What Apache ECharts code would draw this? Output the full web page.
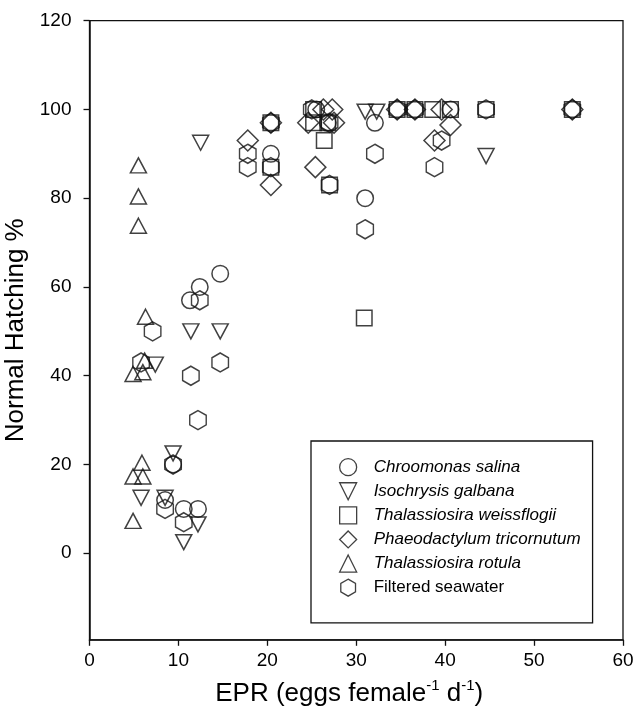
<!DOCTYPE html>
<html>
<head>
<meta charset="utf-8">
<script src="https://cdn.jsdelivr.net/npm/echarts@6/dist/echarts.min.js"></script>
<style>
html,body{margin:0;padding:0;background:#fff;}
#chart{width:636px;height:708px;}
</style>
</head>
<body>
<div id="chart"></div>
<script>
// ---- data (EPR, Normal Hatching %) ----
const seriesNames = ['Chroomonas salina','Isochrysis galbana','Thalassiosira weissflogii','Phaeodactylum tricornutum','Thalassiosira rotula','Filtered seawater'];
const chroomonas = [[14.7,63],[12.4,60],[11.3,57],[9.4,20],[8.5,12],[10.6,10],[12.2,10],[20.4,90],[32.1,97],[31,80],[26.8,97],[25.5,100],[40.6,100]];
const isochrysis = [[12.5,92.5],[31,99.5],[32.3,99.5],[44.6,89.5],[11.4,50],[14.7,50],[7.4,42.5],[9.4,22.5],[5.8,12.5],[8.5,12.5],[12.2,6.5],[10.6,2.5]];
const weissflogii = [[20.4,97],[20.4,87],[25.2,97],[26.8,97],[26.4,93],[27,83],[25.2,100],[34.6,100],[36.6,100],[38.6,100],[40.6,100],[44.6,100],[54.3,100],[30.9,53]];
const phaeodactylum = [[17.8,93],[20.4,97],[20.4,83],[25.4,87],[24.6,97],[26.3,100],[27.3,100],[27.5,97],[34.6,100],[36.6,100],[39.6,100],[40.6,96.5],[38.8,93],[54.3,100]];
const rotula = [[5.5,87.4],[5.5,80.4],[5.5,73.8],[6.3,53.3],[6.2,43.4],[4.9,40.4],[6.0,40.8],[5.9,20.4],[4.9,17.3],[6.0,17.3],[4.9,7.3]];
const seawater = [[17.8,90],[17.8,87],[20.4,97],[20.4,87],[25,100],[27,97],[27,83],[32.1,90],[31,73],[34.6,100],[36.6,100],[39.6,93],[38.8,87],[44.6,100],[54.3,100],[7.1,50],[14.7,43],[11.4,40],[12.2,30],[5.8,43],[9.4,20],[8.5,10],[10.6,7],[12.4,57]];
const yTickValues = [0,20,40,60,80,100,120];

const FONT = "'Liberation Sans', Arial, Helvetica, sans-serif";
const INK = '#111';
const symbols = {
  circle: 'circle',
  down: 'path://M0,0 L10,0 L5,10 Z',
  square: 'rect',
  diamond: 'diamond',
  up: 'triangle',
  hex: 'path://M5,0 L10,2.887 L10,8.66 L5,11.547 L0,8.66 L0,2.887 Z'
};
function sc(name, data, symbol, size) {
  return {
    name: name, type: 'scatter', data: data,
    symbol: symbol, symbolSize: size,
    itemStyle: {color: 'rgba(255,255,255,0)', borderColor: INK, borderWidth: 1.5},
    emphasis: {disabled: true}
  };
}
const chart = echarts.init(document.getElementById('chart'), null, {renderer: 'canvas'});
chart.setOption({
  animation: false,
  backgroundColor: '#fff',
  textStyle: {fontFamily: FONT, color: '#000'},
  grid: {left: 89.5, right: 13, top: 20.7, bottom: 68.2, containLabel: false, outerBoundsMode: 'none',
         show: true, borderColor: INK, borderWidth: 1.3, backgroundColor: 'transparent'},
  xAxis: {
    type: 'value', min: 0, max: 60, interval: 10,
    axisLine: {onZero: false, lineStyle: {color: INK, width: 1.5}},
    axisTick: {inside: false, length: 6, lineStyle: {color: INK, width: 1.3}},
    axisLabel: {fontSize: 19, color: '#000', margin: 11, fontFamily: FONT},
    splitLine: {show: false},
    name: '{a|EPR (eggs female}{s|-1}{a| d}{s|-1}{a|)}',
    nameLocation: 'middle', nameGap: 39,
    nameTextStyle: {padding: [0, 14, 0, 0], rich: {
      a: {fontSize: 26, fontFamily: FONT, color: '#000', lineHeight: 28, verticalAlign: 'bottom'},
      s: {fontSize: 15, fontFamily: FONT, color: '#000', lineHeight: 28, verticalAlign: 'top'}
    }}
  },
  yAxis: {
    type: 'value', min: -19.5, max: 120,
    axisLine: {onZero: false, lineStyle: {color: INK, width: 1.5}},
    axisTick: {inside: false, length: 6, lineStyle: {color: INK, width: 1.3}, customValues: yTickValues},
    axisLabel: {fontSize: 19, color: '#000', margin: 18, fontFamily: FONT, customValues: yTickValues},
    splitLine: {show: false},
    name: 'Normal Hatching %',
    nameLocation: 'middle', nameGap: 53,
    nameTextStyle: {fontSize: 26, fontFamily: FONT, color: '#000'}
  },
  legend: {
    orient: 'vertical', left: 311, top: 441,
    backgroundColor: '#fff', borderColor: INK, borderWidth: 1.3,
    padding: [17, 12, 26, 28],
    itemWidth: 17, itemHeight: 17, itemGap: 5.8,
    selectedMode: false,
    data: seriesNames,
    itemStyle: {borderWidth: 1.3, borderColor: INK, color: 'rgba(255,255,255,0)'},
    formatter: function (n) { return n === 'Filtered seawater' ? '{n|' + n + '}' : '{i|' + n + '}'; },
    textStyle: {fontSize: 17, fontFamily: FONT, color: '#000', rich: {
      i: {fontStyle: 'italic', fontSize: 17, fontFamily: FONT, color: '#000', padding: [0, 0, 0, 12], lineHeight: 18},
      n: {fontSize: 17, fontFamily: FONT, color: '#000', padding: [0, 0, 0, 12], lineHeight: 18}
    }}
  },
  series: [
    sc(seriesNames[0], chroomonas, symbols.circle, 16.5),
    sc(seriesNames[1], isochrysis, symbols.down, [16, 15]),
    sc(seriesNames[2], weissflogii, symbols.square, 15.5),
    sc(seriesNames[3], phaeodactylum, symbols.diamond, 21),
    sc(seriesNames[4], rotula, symbols.up, [16, 15]),
    sc(seriesNames[5], seawater, symbols.hex, [16.5, 19])
  ]
});
</script>
</body>
</html>
